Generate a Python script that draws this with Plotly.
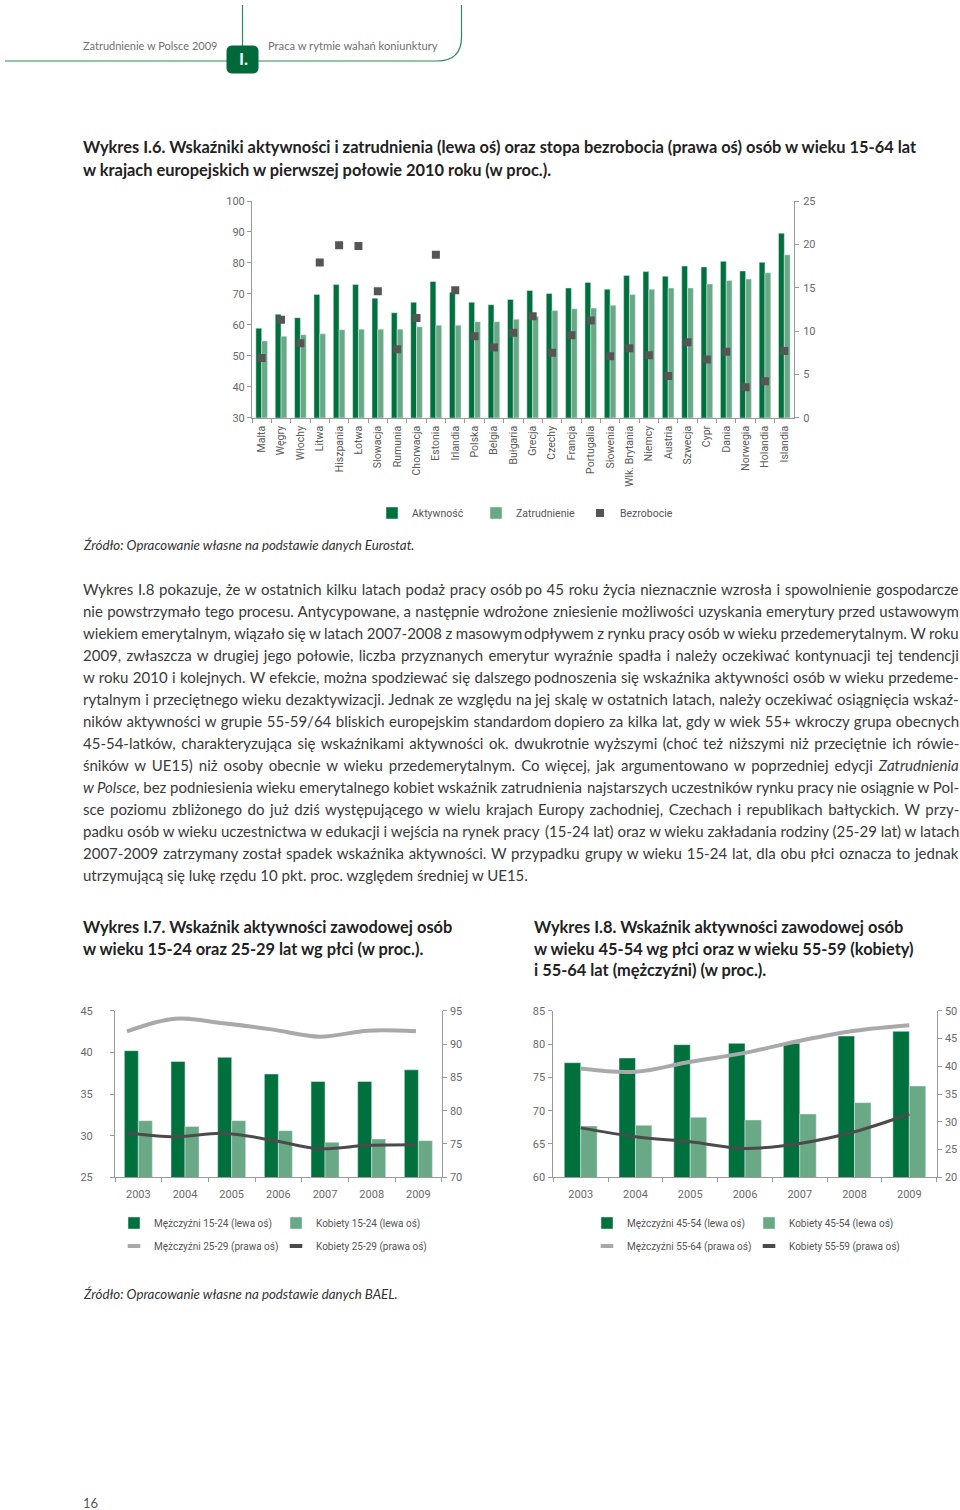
import re
import plotly.graph_objects as go

W, H = 960, 1510

# ---------------- data ----------------
countries = ["Malta", "Węgry", "Włochy", "Litwa", "Hiszpania", "Łotwa", "Słowacja", "Rumunia",
             "Chorwacja", "Estonia", "Irlandia", "Polska", "Belgia", "Bułgaria", "Grecja", "Czechy",
             "Francja", "Portugalia", "Słowenia", "Wlk. Brytania", "Niemcy", "Austria", "Szwecja",
             "Cypr", "Dania", "Norwegia", "Holandia", "Islandia"]
aktywnosc = [58.9, 63.4, 62.3, 69.8, 73.0, 73.0, 68.6, 63.9, 67.3, 74.0, 70.5, 67.3, 66.5, 68.2,
             71.1, 70.1, 71.9, 73.7, 71.5, 75.9, 77.2, 75.7, 79.0, 78.7, 80.5, 77.4, 80.2, 89.6]
zatrudnienie = [54.8, 56.3, 56.8, 57.1, 58.4, 58.6, 58.6, 58.6, 59.4, 59.9, 59.9, 61.0, 61.0, 61.8,
                62.7, 64.6, 65.2, 65.4, 66.3, 69.8, 71.5, 71.9, 71.9, 73.2, 74.3, 74.8, 76.8, 82.6]
bezrobocie = [6.9, 11.3, 8.6, 17.9, 19.9, 19.8, 14.6, 7.9, 11.5, 18.8, 14.7, 9.4, 8.1, 9.8,
              11.7, 7.5, 9.5, 11.2, 7.1, 8.0, 7.2, 4.8, 8.7, 6.7, 7.6, 3.5, 4.2, 7.7]

years = ["2003", "2004", "2005", "2006", "2007", "2008", "2009"]
year_idx = [0, 1, 2, 3, 4, 5, 6]
m15_24 = [40.2, 38.9, 39.4, 37.4, 36.5, 36.5, 37.9]
k15_24 = [31.8, 31.1, 31.8, 30.6, 29.2, 29.6, 29.4]
m25_29 = [91.9, 93.8, 93.1, 92.2, 91.1, 92.0, 91.9]
k25_29 = [76.7, 76.1, 76.6, 75.6, 74.3, 74.8, 74.9]

m45_54 = [77.2, 77.9, 79.9, 80.1, 80.1, 81.2, 81.9]
k45_54 = [67.7, 67.8, 69.0, 68.6, 69.5, 71.2, 73.7]
m55_64 = [39.6, 39.0, 40.8, 42.4, 44.6, 46.4, 47.4]
k55_59 = [28.9, 27.3, 26.4, 25.2, 26.1, 28.2, 31.4]

paragraph_lines = [
    "Wykres I.8 pokazuje, że w ostatnich kilku latach podaż pracy osób po 45 roku życia nieznacznie wzrosła i spowolnienie gospodarcze",
    "nie powstrzymało tego procesu. Antycypowane, a następnie wdrożone zniesienie możliwości uzyskania emerytury przed ustawowym",
    "wiekiem emerytalnym, wiązało się w latach 2007-2008 z masowym odpływem z rynku pracy osób w wieku przedemerytalnym. W roku",
    "2009, zwłaszcza w drugiej jego połowie, liczba przyznanych emerytur wyraźnie spadła i należy oczekiwać kontynuacji tej tendencji",
    "w roku 2010 i kolejnych. W efekcie, można spodziewać się dalszego podnoszenia się wskaźnika aktywności osób w wieku przedeme-",
    "rytalnym i przeciętnego wieku dezaktywizacji. Jednak ze względu na jej skalę w ostatnich latach, należy oczekiwać osiągnięcia wskaź-",
    "ników aktywności w grupie 55-59/64 bliskich europejskim standardom dopiero za kilka lat, gdy w wiek 55+ wkroczy grupa obecnych",
    "45-54-latków, charakteryzująca się wskaźnikami aktywności ok. dwukrotnie wyższymi (choć też niższymi niż przeciętnie ich rówie-",
    "śników w UE15) niż osoby obecnie w wieku przedemerytalnym. Co więcej, jak argumentowano w poprzedniej edycji <i>Zatrudnienia</i>",
    "<i>w Polsce</i>, bez podniesienia wieku emerytalnego kobiet wskaźnik zatrudnienia najstarszych uczestników rynku pracy nie osiągnie w Pol-",
    "sce poziomu zbliżonego do już dziś występującego w wielu krajach Europy zachodniej, Czechach i republikach bałtyckich. W przy-",
    "padku osób w wieku uczestnictwa w edukacji i wejścia na rynek pracy (15-24 lat) oraz w wieku zakładania rodziny (25-29 lat) w latach",
    "2007-2009 zatrzymany został spadek wskaźnika aktywności. W przypadku grupy w wieku 15-24 lat, dla obu płci oznacza to jednak",
    "utrzymującą się lukę rzędu 10 pkt. proc. względem średniej w UE15.",
]

# ---------------- style ----------------
DARK = "#00703c"
LIGHT = "#6aa986"
GREY_MK = "#555555"
LGREY = "#a9a9a9"
DGREY = "#4b4b4b"
AX = "#9a9a9a"
COND = "Roboto, Lato, sans-serif"
BODY = "Lato, Open Sans, sans-serif"
HDR_GREEN = "#2f8a57"


def px(x):
    return x / W


def py(y):
    return 1 - y / H


fig = go.Figure()

# ---------------- main chart (I.6) ----------------
fig.add_trace(go.Bar(x=countries, y=aktywnosc, name="Aktywność", marker_color=DARK,
                     xaxis="x", yaxis="y", legend="legend"))
fig.add_trace(go.Bar(x=countries, y=zatrudnienie, name="Zatrudnienie", marker_color=LIGHT,
                     xaxis="x", yaxis="y", legend="legend"))
fig.add_trace(go.Scatter(x=countries, y=bezrobocie, name="Bezrobocie", mode="markers",
                         marker=dict(symbol="square", size=8, color=GREY_MK),
                         xaxis="x", yaxis="y2", legend="legend"))

# ---------------- I.7 ----------------
fig.add_trace(go.Bar(x=years, y=m15_24, name="Mężczyźni 15-24 (lewa oś)", marker_color=DARK,
                     xaxis="x2", yaxis="y3", legend="legend2"))
fig.add_trace(go.Bar(x=years, y=k15_24, name="Kobiety 15-24 (lewa oś)", marker_color=LIGHT,
                     xaxis="x2", yaxis="y3", legend="legend3"))
fig.add_trace(go.Scatter(x=year_idx, y=m25_29, mode="lines", line=dict(color=LGREY, width=4, shape="spline"),
                         xaxis="x3", yaxis="y4", showlegend=False))
fig.add_trace(go.Scatter(x=year_idx, y=k25_29, mode="lines", line=dict(color=DGREY, width=3, shape="spline"),
                         xaxis="x3", yaxis="y4", showlegend=False))
fig.add_trace(go.Scatter(x=[None], y=[None], mode="markers", name="Mężczyźni 25-29 (prawa oś)",
                         marker=dict(symbol="line-ew", size=9, line=dict(color=LGREY, width=4)),
                         xaxis="x3", yaxis="y4", legend="legend4"))
fig.add_trace(go.Scatter(x=[None], y=[None], mode="markers", name="Kobiety 25-29 (prawa oś)",
                         marker=dict(symbol="line-ew", size=9, line=dict(color=DGREY, width=4)),
                         xaxis="x3", yaxis="y4", legend="legend5"))

# ---------------- I.8 ----------------
fig.add_trace(go.Bar(x=years, y=m45_54, name="Mężczyźni 45-54 (lewa oś)", marker_color=DARK,
                     xaxis="x4", yaxis="y5", legend="legend6"))
fig.add_trace(go.Bar(x=years, y=k45_54, name="Kobiety 45-54 (lewa oś)", marker_color=LIGHT,
                     xaxis="x4", yaxis="y5", legend="legend7"))
fig.add_trace(go.Scatter(x=years, y=m55_64, mode="lines", line=dict(color=LGREY, width=4, shape="spline"),
                         xaxis="x4", yaxis="y6", showlegend=False))
fig.add_trace(go.Scatter(x=years, y=k55_59, mode="lines", line=dict(color=DGREY, width=3, shape="spline"),
                         xaxis="x4", yaxis="y6", showlegend=False))
fig.add_trace(go.Scatter(x=[None], y=[None], mode="markers", name="Mężczyźni 55-64 (prawa oś)",
                         marker=dict(symbol="line-ew", size=9, line=dict(color=LGREY, width=4)),
                         xaxis="x4", yaxis="y6", legend="legend8"))
fig.add_trace(go.Scatter(x=[None], y=[None], mode="markers", name="Kobiety 55-59 (prawa oś)",
                         marker=dict(symbol="line-ew", size=9, line=dict(color=DGREY, width=4)),
                         xaxis="x4", yaxis="y6", legend="legend9"))

tickfont = dict(family=COND, size=11, color="#6a6a6a")
catfont = dict(family=COND, size=10.5, color="#5a5a5a")
axcommon = dict(showgrid=False, zeroline=False, showline=True, linecolor=AX, linewidth=1,
                ticks="outside", ticklen=4, tickcolor=AX, tickfont=tickfont, fixedrange=True,
                automargin=False)

# main chart geometry
MX0, MX1, MY0, MY1 = 252, 794, 201, 417.7
# I.7 geometry
AX0, AX1, AY0, AY1 = 115, 441.7, 1010.7, 1177.3
# I.8 geometry
BX0, BX1, BY0, BY1 = 553.3, 936.7, 1010.7, 1177.3

n_c = len(countries)
n_y = len(years)

fig.update_layout(
    width=W, height=H, margin=dict(l=0, r=0, t=0, b=0, autoexpand=False),
    paper_bgcolor="white", plot_bgcolor="rgba(0,0,0,0)",
    barmode="group", bargap=0.4, bargroupgap=0,
    font=dict(family=BODY, color="#333333"),
    xaxis=dict(axcommon, domain=[px(MX0), px(MX1)], anchor="y", type="category",
               range=[-0.5, n_c - 0.5], tickson="boundaries", tickangle=-90, tickfont=catfont,
               ticklabelstandoff=3),
    yaxis=dict(axcommon, domain=[py(MY1), py(MY0)], anchor="x", range=[30, 100], dtick=10,
               ticklabelstandoff=0),
    yaxis2=dict(axcommon, overlaying="y", side="right", anchor="x", range=[0, 25], dtick=5,
                ticklabelstandoff=2),
    xaxis2=dict(axcommon, domain=[px(AX0), px(AX1)], anchor="y3", type="category",
                range=[-0.5, n_y - 0.5], tickson="boundaries", ticklabelstandoff=6),
    xaxis3=dict(overlaying="x2", anchor="y4", range=[-0.249, 6.534], visible=False, fixedrange=True),
    yaxis3=dict(axcommon, domain=[py(AY1), py(AY0)], anchor="x2", range=[25, 45], dtick=5,
                ticklabelstandoff=15),
    yaxis4=dict(axcommon, overlaying="y3", side="right", anchor="x2", range=[70, 95], dtick=5,
                ticklabelstandoff=1),
    xaxis4=dict(axcommon, domain=[px(BX0), px(BX1)], anchor="y5", type="category",
                range=[-0.5, n_y - 0.5], tickson="boundaries", ticklabelstandoff=6),
    yaxis5=dict(axcommon, domain=[py(BY1), py(BY0)], anchor="x4", range=[60, 85], dtick=5,
                ticklabelstandoff=1),
    yaxis6=dict(axcommon, overlaying="y5", side="right", anchor="x4", range=[20, 50], dtick=5,
                ticklabelstandoff=1),
)

legfont = dict(family=COND, size=10, color="#555555")
legcommon = dict(orientation="h", xanchor="left", yanchor="middle", font=legfont,
                 bgcolor="rgba(0,0,0,0)", itemwidth=30,
                 itemclick=False, itemdoubleclick=False)
fig.update_layout(
    legend=dict(legcommon, x=px(372), y=py(513), entrywidth=59, entrywidthmode="pixels",
                font=dict(family=COND, size=10.5, color="#555555")),
    legend2=dict(legcommon, x=px(114), y=py(1223)),
    legend3=dict(legcommon, x=px(276), y=py(1223)),
    legend4=dict(legcommon, x=px(114), y=py(1246)),
    legend5=dict(legcommon, x=px(276), y=py(1246)),
    legend6=dict(legcommon, x=px(587), y=py(1223)),
    legend7=dict(legcommon, x=px(749), y=py(1223)),
    legend8=dict(legcommon, x=px(587), y=py(1246)),
    legend9=dict(legcommon, x=px(749), y=py(1246)),
)

# ---------------- header shapes ----------------
shapes = []
shapes.append(dict(type="line", xref="paper", yref="paper", x0=px(5), y0=py(61), x1=px(228), y1=py(61),
                   line=dict(color=HDR_GREEN, width=1.2)))
shapes.append(dict(type="line", xref="paper", yref="paper", x0=px(242.5), y0=py(5), x1=px(242.5), y1=py(47),
                   line=dict(color=HDR_GREEN, width=1.2)))
shapes.append(dict(type="path", xref="paper", yref="paper",
                   path=f"M {px(258)} {py(61)} L {px(437)} {py(61)} Q {px(461.5)} {py(61)} {px(461.5)} {py(37)} L {px(461.5)} {py(5)}",
                   line=dict(color=HDR_GREEN, width=1.2)))
bx0, bx1, by0, by1, r = 227, 258, 46, 73, 5
box = (f"M {px(bx0 + r)} {py(by0)} L {px(bx1 - r)} {py(by0)} Q {px(bx1)} {py(by0)} {px(bx1)} {py(by0 + r)} "
       f"L {px(bx1)} {py(by1 - r)} Q {px(bx1)} {py(by1)} {px(bx1 - r)} {py(by1)} "
       f"L {px(bx0 + r)} {py(by1)} Q {px(bx0)} {py(by1)} {px(bx0)} {py(by1 - r)} "
       f"L {px(bx0)} {py(by0 + r)} Q {px(bx0)} {py(by0)} {px(bx0 + r)} {py(by0)} Z")
shapes.append(dict(type="path", xref="paper", yref="paper", path=box,
                   fillcolor="#00693a", line=dict(color="#00693a", width=1)))
fig.update_layout(shapes=shapes)

# ---------------- annotations ----------------
ann = []


def text(x, y, t, size=12, color="#333333", family=BODY, anchor="left"):
    ann.append(dict(xref="paper", yref="paper", x=px(x), y=py(y), text=t, showarrow=False,
                    xanchor=anchor, yanchor="middle", align=anchor,
                    font=dict(size=size, color=color, family=family)))


text(81, 45, "Zatrudnienie w Polsce 2009", 11, "#707070")
text(266, 45, "Praca w rytmie wahań koniunktury", 11.2, "#707070")
text(243, 59, "<b>I.</b>", 17, "white", anchor="center")

TS = 16.4
text(81, 147, "<b>Wykres I.6. Wskaźniki aktywności i zatrudnienia (lewa oś) oraz stopa bezrobocia (prawa oś) osób w wieku 15-64 lat</b>", TS, "#222222")
text(81, 169, "<b>w krajach europejskich w pierwszej połowie 2010 roku (w proc.).</b>", TS, "#222222")
text(81, 545, "<i>Źródło: Opracowanie własne na podstawie danych Eurostat.</i>", 13.3, "#333333")

# justified paragraph: left part + right part, extra word spacing spreads the slack
PS = 15.0
SPAN = 875.0
para_excess = [1, 12, 23, -6, 8, 9, 6, -7, -18, 19, -13, 16, 0]  # natural width - span at 15.3px
PL, PR = 81, 960.5
for i, line in enumerate(paragraph_lines):
    y = 589 + 22 * i
    if i == len(paragraph_lines) - 1:
        text(PL, y, line, PS, "#3a3a3a")
        continue
    words = line.split(" ")
    plain = [re.sub(r"<[^>]+>", "", w_) for w_ in words]
    nat = (SPAN + para_excess[i]) * PS / 15.3
    ws = (SPAN - nat) / max(1, len(words) - 1)
    total = sum(len(p) + 1 for p in plain)
    acc, k = 0, 1
    for j, p in enumerate(plain):
        acc += len(p) + 1
        if acc >= total / 2:
            k = j + 1
            break
    left = " ".join(words[:k])
    right = " ".join(words[k:])
    if left.count("<i>") > left.count("</i>"):
        left += "</i>"
        right = "<i>" + right
    sty = f"word-spacing:{ws:.2f}px"
    text(PL, y, f"<span style='{sty}'>{left}</span>", PS, "#3a3a3a", anchor="left")
    text(PR, y, f"<span style='{sty}'>{right}</span>", PS, "#3a3a3a", anchor="right")

text(81, 926, "<b>Wykres I.7. Wskaźnik aktywności zawodowej osób</b>", TS, "#222222")
text(81, 948, "<b>w wieku 15-24 oraz 25-29 lat wg płci (w proc.).</b>", TS, "#222222")
text(532, 926, "<b>Wykres I.8. Wskaźnik aktywności zawodowej osób</b>", TS, "#222222")
text(532, 948, "<b>w wieku 45-54 wg płci oraz w wieku 55-59 (kobiety)</b>", TS, "#222222")
text(532, 970, "<b>i 55-64 lat (mężczyźni) (w proc.).</b>", TS, "#222222")

text(81, 1294, "<i>Źródło: Opracowanie własne na podstawie danych BAEL.</i>", 13.3, "#333333")
text(81, 1503, "16", 13, "#555555")

fig.update_layout(annotations=ann)

fig.write_html("out.html")
